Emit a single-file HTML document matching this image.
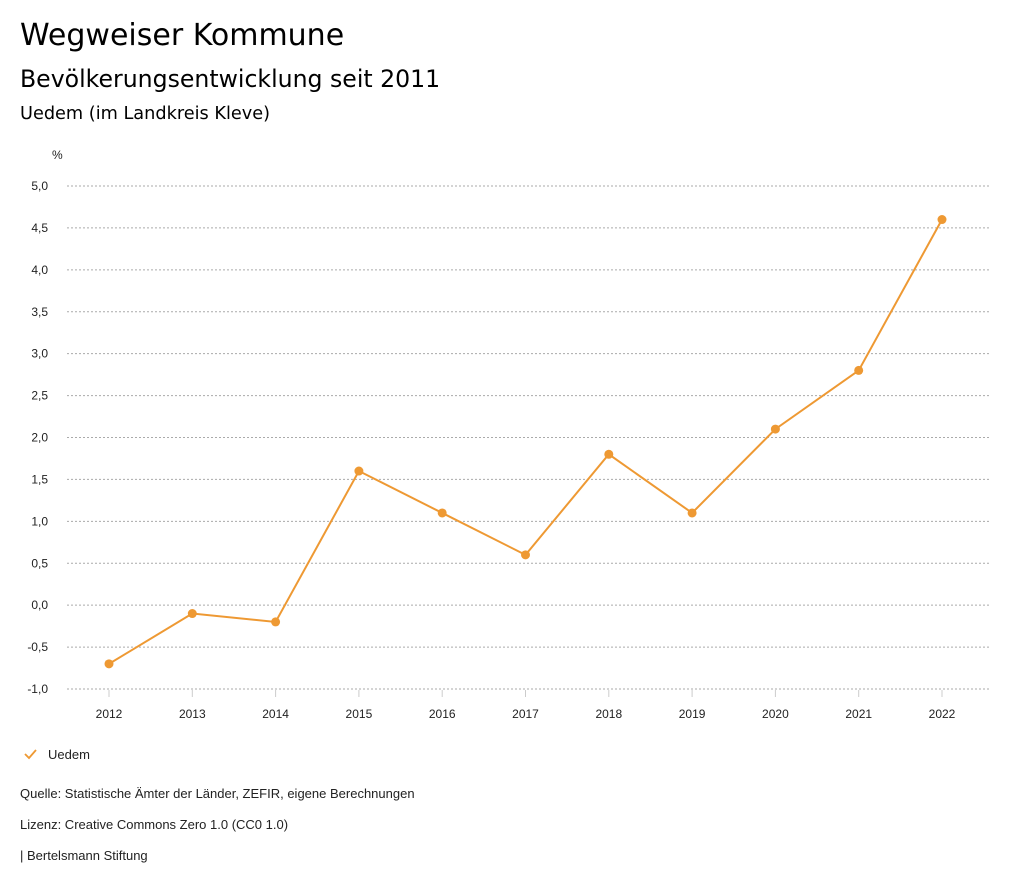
<!DOCTYPE html>
<html><head><meta charset="utf-8"><style>
body{margin:0;width:1024px;height:888px;background:#fff;font-family:"Liberation Sans",sans-serif;color:#000;overflow:hidden}
.t{position:absolute;left:20px;white-space:nowrap}
.h{font-family:"DejaVu Sans",sans-serif}
</style></head><body>
<div class="t h" style="top:18px;font-size:30px">Wegweiser Kommune</div>
<div class="t h" style="top:65px;font-size:23.6px">Bevölkerungsentwicklung seit 2011</div>
<div class="t h" style="top:104px;font-size:17.7px">Uedem (im Landkreis Kleve)</div>
<svg id="chart" width="1024" height="888" style="position:absolute;left:0;top:0" font-family="Liberation Sans, sans-serif"></svg>
<div class="t" style="top:786px;font-size:13px;color:#222">Quelle: Statistische Ämter der Länder, ZEFIR, eigene Berechnungen</div>
<div class="t" style="top:817px;font-size:13px;color:#222">Lizenz: Creative Commons Zero 1.0 (CC0 1.0)</div>
<div class="t" style="top:848px;font-size:13px;color:#222">| Bertelsmann Stiftung</div>
<script>
const years=[2012,2013,2014,2015,2016,2017,2018,2019,2020,2021,2022];
const values=[-0.7,-0.1,-0.2,1.6,1.1,0.6,1.8,1.1,2.1,2.8,4.6];
const yTicks=[5,4.5,4,3.5,3,2.5,2,1.5,1,0.5,0,-0.5,-1];
const svg=document.getElementById('chart');
const NS='http://www.w3.org/2000/svg';
const y=v=>186+(5-v)*(503/6);
const x=i=>109+i*83.3;
function mk(t,a){const e=document.createElementNS(NS,t);for(const k in a)e.setAttribute(k,a[k]);svg.appendChild(e);return e;}
let u=mk('text',{x:52,y:159,'font-size':12,fill:'#222'});u.textContent='%';


yTicks.forEach(v=>{
 const l=mk('line',{x1:67,x2:990,y1:y(v),y2:y(v),stroke:'#aaa','stroke-dasharray':'2,2','stroke-width':1});
 
 
 const t=mk('text',{x:48,y:y(v)+4,'font-size':12,'text-anchor':'end',fill:'#222'});
 t.textContent=v.toFixed(1).replace('.',',');
 
 
});
years.forEach((yr,i)=>{
 const l=mk('line',{x1:x(i),x2:x(i),y1:690,y2:697,stroke:'#ccc'});
 
 
 const t=mk('text',{x:x(i),y:718,'font-size':12,'text-anchor':'middle',fill:'#222'});
 t.textContent=yr;
 
 
});
const p=mk('polyline',{points:values.map((v,i)=>x(i)+','+y(v)).join(' '),fill:'none',stroke:'#ee9933','stroke-width':2});


values.forEach((v,i)=>{
 const c=mk('circle',{cx:x(i),cy:y(v),r:4.5,fill:'#ee9933'});
 
 
});
const chk=mk('polyline',{points:'25,754 29,758 36,750',fill:'none',stroke:'#ee9933','stroke-width':1.8});


const lt=mk('text',{x:48,y:759,'font-size':13,fill:'#222'});lt.textContent='Uedem';


</script>
</body></html>
